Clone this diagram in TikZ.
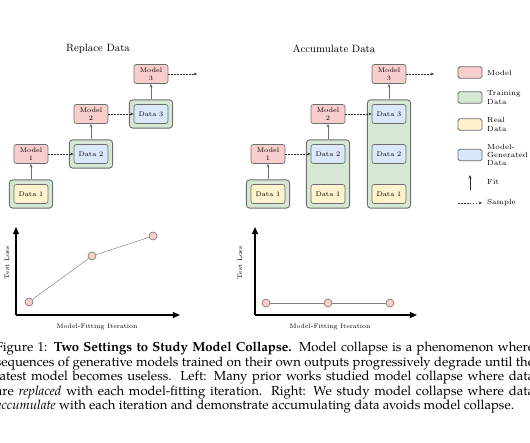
\documentclass[tikz,border=0pt]{standalone}
\usepackage{fontspec}
\newfontfamily\capfont{texgyrepagella}[Extension=.otf, UprightFont=*-regular, BoldFont=*-bold, ItalicFont=*-italic]
\usetikzlibrary{positioning, fit, backgrounds, arrows.meta}

\definecolor{modelred}{HTML}{F8CECC}
\definecolor{traingreen}{HTML}{D5E8D4}
\definecolor{realyellow}{HTML}{FFF2CC}
\definecolor{genblue}{HTML}{DAE8FC}
\definecolor{edgegray}{HTML}{6E6E6E}

\tikzset{
    box/.style={draw=edgegray, line width=0.6pt, rounded corners=2pt, minimum width=1.02cm, minimum height=0.57cm, inner sep=0pt, align=center, font=\fontsize{5.8}{6.6}\selectfont},
    model/.style={box, fill=modelred},
    real/.style={box, fill=realyellow},
    gen/.style={box, fill=genblue},
    train/.style={draw=edgegray, line width=0.8pt, rounded corners=3pt, fill=traingreen, inner sep=0.13cm},
    fitarrow/.style={-{Stealth[length=3pt, width=2.6pt]}, edgegray, line width=0.6pt},
    samplearrow/.style={-{Stealth[length=2.8pt, width=2.4pt]}, black!80, dashed, dash pattern=on 1.5pt off 1pt, line width=0.5pt},
    axis/.style={-{Triangle[length=6pt, width=5pt]}, line width=1.1pt},
    pt/.style={circle, draw=edgegray, fill=modelred, line width=0.5pt, minimum size=0.24cm, inner sep=0pt},
    swatch/.style={draw=edgegray, line width=0.7pt, rounded corners=1.5pt, minimum width=0.72cm, minimum height=0.35cm, inner sep=0pt},
    legtext/.style={anchor=west, align=left, inner sep=0pt, font=\fontsize{6.3}{7.1}\selectfont},
    title/.style={font=\fontsize{9}{10}\selectfont},
    small/.style={font=\fontsize{5.5}{6}\selectfont}
}

\begin{document}
\begin{tikzpicture}[x=0.03cm, y=-0.03cm]
    \useasboundingbox (0, 0) rectangle (530, 442);
    \clip (0, 0) rectangle (530, 442);

    % replace data
    \node[title] (titleL) at (98, 49) {Replace Data};
    \node[model] (mL1) at (31, 154) {Model\\1};
    \node[model] (mL2) at (91, 114) {Model\\2};
    \node[model] (mL3) at (151, 74) {Model\\3};
    \node[real] (dL1) at (31, 194) {Data 1};
    \node[gen] (dL2) at (91, 154) {Data 2};
    \node[gen] (dL3) at (151, 114) {Data 3};
    \begin{pgfonlayer}{background}
        \node[train, fit=(dL1)] (tL1) {};
        \node[train, fit=(dL2)] (tL2) {};
        \node[train, fit=(dL3)] (tL3) {};
    \end{pgfonlayer}
    \coordinate (outL) at (197, 74);
    \draw[fitarrow] (tL1) -- (mL1);
    \draw[fitarrow] (tL2) -- (mL2);
    \draw[fitarrow] (tL3) -- (mL3);
    \draw[samplearrow] (mL1) -- (dL2);
    \draw[samplearrow] (mL2) -- (dL3);
    \draw[samplearrow] (mL3) -- (outL);

    % accumulate data
    \node[title] (titleR) at (334, 49) {Accumulate Data};
    \node[model] (mR1) at (268, 154) {Model\\1};
    \node[model] (mR2) at (328, 114) {Model\\2};
    \node[model] (mR3) at (389, 74) {Model\\3};
    \node[real] (dR11) at (268, 194) {Data 1};
    \node[real] (dR21) at (328, 194) {Data 1};
    \node[gen] (dR22) at (328, 154) {Data 2};
    \node[real] (dR31) at (389, 194) {Data 1};
    \node[gen] (dR32) at (389, 154) {Data 2};
    \node[gen] (dR33) at (389, 114) {Data 3};
    \begin{pgfonlayer}{background}
        \node[train, fit=(dR11)] (tR1) {};
        \node[train, fit=(dR21) (dR22)] (tR2) {};
        \node[train, fit=(dR31) (dR33)] (tR3) {};
    \end{pgfonlayer}
    \coordinate (outR) at (434, 74);
    \draw[fitarrow] (tR1) -- (mR1);
    \draw[fitarrow] (tR2) -- (mR2);
    \draw[fitarrow] (tR3) -- (mR3);
    \draw[samplearrow] (mR1) -- (dR22);
    \draw[samplearrow] (mR2) -- (dR33);
    \draw[samplearrow] (mR3) -- (outR);

    % legend
    \node[swatch, fill=modelred] (kModel) at (470, 72.5) {};
    \node[swatch, fill=traingreen] (kTrain) at (470, 97.5) {};
    \node[swatch, fill=realyellow] (kReal) at (470, 124.5) {};
    \node[swatch, fill=genblue] (kGen) at (470, 155) {};
    \node[legtext] (lModel) at (487, 72.5) {Model};
    \node[legtext] (lTrain) at (487, 97.5) {Training\\Data};
    \node[legtext] (lReal) at (487, 124.5) {Real\\Data};
    \node[legtext] (lGen) at (487, 155) {Model-\\Generated\\Data};
    \coordinate (kFitA) at (470, 190);
    \coordinate (kFitB) at (470, 175);
    \draw[fitarrow, black!80] (kFitA) -- (kFitB);
    \node[legtext] (lFit) at (487, 182) {Fit};
    \coordinate (kSampA) at (458, 203);
    \coordinate (kSampB) at (482, 203);
    \draw[samplearrow] (kSampA) -- (kSampB);
    \node[legtext] (lSample) at (487, 203) {Sample};

    % loss plots
    \coordinate (oL) at (16, 315);
    \coordinate (yL) at (16, 227);
    \coordinate (xL) at (180, 315);
    \draw[axis] (oL) -- (yL);
    \draw[axis] (oL) -- (xL);
    \node[small, rotate=90] (yLabL) at (7, 263) {Test Loss};
    \node[small] (xLabL) at (97, 327) {Model-Fitting Iteration};
    \node[pt] (pL1) at (29, 302) {};
    \node[pt] (pL2) at (92, 256) {};
    \node[pt] (pL3) at (153, 236) {};
    \draw[gray] (pL1) -- (pL2) -- (pL3);

    \coordinate (oR) at (255, 315);
    \coordinate (yR) at (255, 227);
    \coordinate (xR) at (417, 315);
    \draw[axis] (oR) -- (yR);
    \draw[axis] (oR) -- (xR);
    \node[small, rotate=90] (yLabR) at (240, 263) {Test Loss};
    \node[small] (xLabR) at (330, 327) {Model-Fitting Iteration};
    \node[pt] (pR1) at (266, 303) {};
    \node[pt] (pR2) at (328, 303) {};
    \node[pt] (pR3) at (390, 303) {};
    \draw[gray] (pR1) -- (pR2) -- (pR3);

    % caption
    \node[text width=16.15cm, align=justify, inner sep=0pt, font=\capfont\fontsize{11.2}{10.9}\selectfont] (caption) at (265, 378) {Figure 1: \textbf{Two Settings to Study Model Collapse.} Model collapse is a phenomenon where\linebreak sequences of generative models trained on their own outputs progressively degrade until the\linebreak latest model becomes useless. Left: Many prior works studied model collapse where data\linebreak are \emph{replaced} with each model-fitting iteration. Right: We study model collapse where data\linebreak \emph{accumulate} with each iteration and demonstrate accumulating data avoids model collapse.};
\end{tikzpicture}
\end{document}
